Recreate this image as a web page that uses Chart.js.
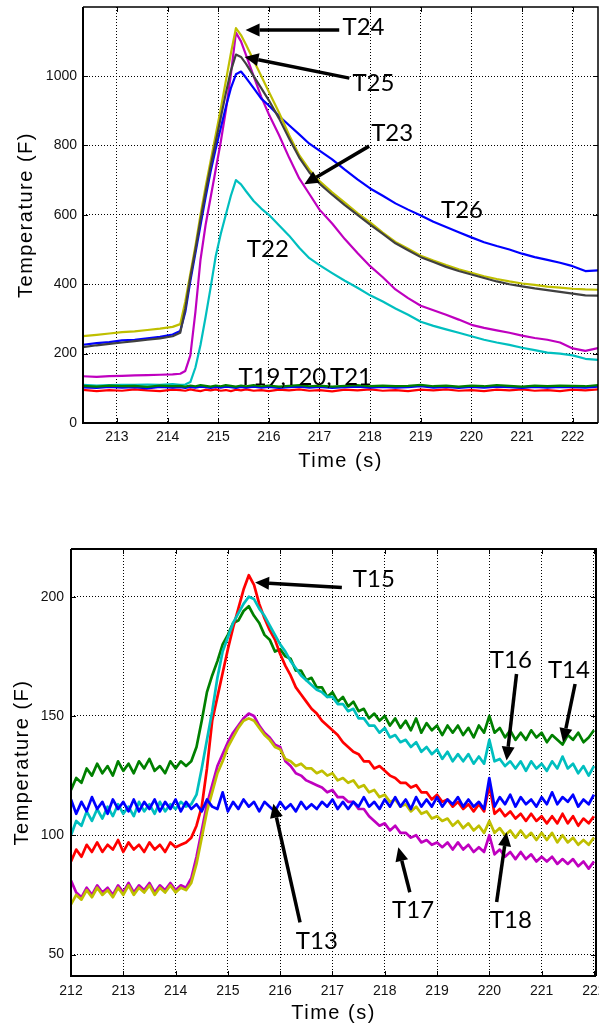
<!DOCTYPE html>
<html><head><meta charset="utf-8">
<script src="https://cdn.jsdelivr.net/npm/chart.js@4.4.1/dist/chart.umd.min.js"></script>
<style>
html,body{margin:0;padding:0;background:#fff;width:599px;height:1032px;overflow:hidden}
#c1{position:absolute;left:0;top:0}
#c2{position:absolute;left:0;top:500px}
</style></head><body>
<canvas id="c1" width="599" height="500"></canvas>
<canvas id="c2" width="599" height="532"></canvas>
<script>
// ---------------- TOP CHART DATA ----------------
const topTimes = [212.3,212.6,212.85,213.1,213.35,213.6,213.85,214.1,214.25,214.35,214.45,214.55,214.65,214.75,214.85,214.95,215.05,215.15,215.25,215.35,215.45,215.55,215.7,215.85,216.0,216.2,216.4,216.6,216.8,217.0,217.25,217.5,217.75,218.0,218.25,218.5,218.75,219.0,219.25,219.5,219.75,220.0,220.25,220.5,220.75,221.0,221.25,221.5,221.75,222.0,222.25,222.5];
const T24 = [250,254,258,262,264,268,272,277, 285,350,430,510,600,680,755,830,905,985,1065,1138, 1118,1090, 1045,1000,955, 895,830,772,730,697, 665,635,605,578,549,522,502,482,468,455,443,433,423,415,408,402,398,393,390,387,385,384];
const T25 = [218,224,228,232,236,240,244,250, 260,330,420,500,585,665,740,810,880,950,1015,1062, 1055,1035, 1000,965,930, 878,820,765,722,690, 658,628,600,572,545,518,498,478,464,450,438,428,418,408,400,394,388,383,378,373,368,367];
const T26 = [225,230,233,238,240,244,248,255, 265,320,410,490,570,650,725,790,850,910,965,1005, 1013,995, 965,935,915, 885,858,832,805,785, 760,730,702,676,655,633,615,598,580,565,550,535,521,510,500,488,478,470,462,452,438,440];
const T23 = [135,133,135,136,137,138,139,140, 142,150,195,320,470,570,650,730,810,900,1005,1125, 1100,1060, 1000,940,890, 830,765,705,660,615, 575,530,490,452,420,385,360,338,325,312,298,283,274,267,260,252,245,240,232,215,208,216];
const T22 = [110,108,109,110,110,111,110,112, 110,111,118,160,225,305,390,480,545,600,655,700, 688,668, 640,618,600, 570,540,505,475,455, 432,410,390,368,350,330,312,292,280,270,260,250,240,232,225,217,210,203,200,195,185,182];
const T20 = [107,105,108,106,107,104,108,106,107,105, 108,106,109,107,105,108,106,109,107,105, 108,106,109,106,108,105,107,109,106,108, 105,107,109,106,108,106,107,110,106,108, 105,108,106,109,107,105,108,106,108,107, 106,109];
const T19 = [103,101,104,102,103,100,104,102,103,101, 104,102,105,103,101,104,102,105,103,101, 104,102,105,102,104,101,103,105,102,104, 101,103,105,102,104,102,103,106,102,104, 101,104,102,105,103,101,104,102,104,103, 102,105];
const T21 = [96,92,95,93,97,94,92,96,95,93, 97,94,92,96,94,97,93,95,92,96, 94,97,93,95,92,96,94,97,93,95, 91,96,94,97,93,95,92,96,94,97, 93,95,92,96,94,97,93,95,92,96, 94,97];
const topYTicks = [0,200,400,600,800,1000];
const topXTicks = [213,214,215,216,217,218,219,220,221,222];

// ---------------- BOTTOM CHART DATA ----------------
const botTimes = [212.0,212.1,212.2,212.3,212.4,212.5,212.6,212.7,212.8,212.9,
 213.0,213.1,213.2,213.3,213.4,213.5,213.6,213.7,213.8,213.9,
 214.0,214.1,214.2,214.3,214.4,214.5,214.6,214.7,214.8,214.9,
 215.0,215.1,215.2,215.3,215.4,215.5,215.6,215.7,215.8,215.9,
 216.0,216.1,216.2,216.3,216.4,216.5,216.6,216.7,216.8,216.9,
 217.0,217.1,217.2,217.3,217.4,217.5,217.6,217.7,217.8,217.9,
 218.0,218.1,218.2,218.3,218.4,218.5,218.6,218.7,218.8,218.9,
 219.0,219.1,219.2,219.3,219.4,219.5,219.6,219.7,219.8,219.9,
 220.0,220.1,220.2,220.3,220.4,220.5,220.6,220.7,220.8,220.9,
 221.0,221.1,221.2,221.3,221.4,221.5,221.6,221.7,221.8,221.9,
 222.0];
const T13 = [115,109,114,110,116,111,114,109,115,111, 114,110,115,110,114,111,115,110,114,111, 115,110,114,111,113,110,115,112,111,118, 110,114,111,115,112,114,110,114,112,110, 114,111,113,110,114,111,113,111,114,112, 115,111,114,111,114,112,116,112,114,111, 115,112,116,112,115,111,116,112,115,112, 116,112,115,113,116,112,115,112,114,111, 124,112,116,113,117,112,116,113,115,112, 116,113,118,113,116,114,117,112,115,113, 117];
const T14 = [119,124,122,128,125,130,126,129,125,131, 127,130,126,131,128,132,127,129,126,131, 128,131,129,131,137,148,160,167,173,180, 184,189,190,194,196,192,189,184,182,177, 178,175,174,169,169,165,166,162,162,158, 160,156,158,154,156,152,153,149,151,148, 150,146,149,145,148,144,149,143,147,144, 146,142,146,143,146,142,145,141,146,143, 150,143,145,141,144,140,143,140,144,141, 143,139,142,140,138,142,140,143,139,141, 144];
const T15 = [89,94,91,96,93,97,93,96,94,98, 93,97,94,96,93,97,94,96,93,97, 95,96,97,99,104,112,128,148,158,168, 178,187,195,203,209,205,197,191,186,182, 176,171,167,162,159,156,153,151,148,146, 144,142,139,137,135,134,131,131,128,129, 127,125,124,122,122,120,121,118,118,115, 117,114,115,112,114,111,113,110,113,110, 121,109,111,108,110,107,109,106,109,106, 108,105,108,105,109,105,108,104,107,105, 108];
const T16 = [100,106,104,110,106,111,107,112,108,113, 109,112,108,114,110,113,109,114,110,113, 111,114,112,113,117,128,140,152,166,177, 183,189,193,197,200,199,195,192,188,184, 180,177,173,170,167,165,163,161,160,158, 158,155,155,152,153,149,149,146,146,143, 145,141,142,139,140,137,139,135,137,134, 136,132,135,131,134,131,134,130,133,130, 140,131,132,129,131,128,131,127,131,128, 130,127,131,128,133,128,130,126,129,125, 129];
const T17 = [81,76,74,78,75,79,76,78,75,79, 76,80,76,79,77,80,76,79,77,80, 77,79,78,82,91,102,113,121,129,134, 139,143,146,149,151,150,146,143,141,138, 137,131,129,126,125,123,122,121,120,118, 119,116,116,114,114,111,111,108,106,104, 105,102,104,101,101,99,100,97,98,96, 97,95,97,94,97,94,96,93,95,93, 100,92,94,91,93,90,93,90,92,89, 91,89,91,88,90,88,90,87,89,86, 89];
const T18 = [71,75,73,77,74,78,75,77,74,78, 75,79,75,78,76,79,75,78,76,79, 76,78,77,80,88,99,110,118,126,131, 137,141,145,148,149,148,145,142,140,137, 136,132,131,129,130,128,128,126,127,125, 126,123,124,122,123,120,121,118,119,116, 117,114,115,112,113,110,112,109,110,107, 108,106,107,104,106,103,105,102,104,101, 106,101,103,100,102,99,102,99,101,98, 101,98,101,97,100,97,99,96,98,96, 99];
const botYTicks = [50,100,150,200];
const botXTicks = [212,213,214,215,216,217,218,219,220,221,222];

// ---------------- ANNOTATIONS (data coordinates) ----------------
const topNotes = [
 {label:'T24', at:[217.455,1118], tail:[217.39,1133], tip:[215.54,1133]},
 {label:'T25', at:[217.65,957], tail:[217.59,994], tip:[215.52,1055]},
 {label:'T23', at:[218.02,812], tail:[217.98,798], tip:[216.70,688]},
 {label:'T26', at:[219.40,590]},
 {label:'T22', at:[215.565,478]},
 {label:'T19,T20,T21', at:[215.40,110]}
];
const botNotes = [
 {label:'T15', at:[217.39,204.2], tail:[217.18,203.9], tip:[215.52,206]},
 {label:'T16', at:[220.01,170.3], tail:[220.52,167.6], tip:[220.33,131.3]},
 {label:'T14', at:[221.12,166], tail:[221.64,163.4], tip:[221.41,139]},
 {label:'T13', at:[216.30,52.5], tail:[216.38,63.5], tip:[215.87,113.2]},
 {label:'T17', at:[218.14,65.5], tail:[218.48,76.1], tip:[218.26,95]},
 {label:'T18', at:[220.01,61.3], tail:[220.14,72], tip:[220.33,101.3]}
];

// ---------------- DRAWING ----------------
const C = {blue:'#0000FF', green:'#008000', red:'#FF0000', cyan:'#00BFBF', magenta:'#BF00BF', olive:'#BFBF00', gray:'#404040'};
const AXFONT = '"Liberation Sans", Arial, Helvetica, sans-serif';
const NOTEFONT = 'Lato, "Open Sans", sans-serif';

function pts(times, vals){ return times.map((t,i)=>({x:t, y:vals[i]})); }
function ds(label, times, vals, color, w){ return {label, data:pts(times,vals), borderColor:color, backgroundColor:color, borderWidth:w, pointRadius:0, tension:0, fill:false, borderJoinStyle:'round'}; }

function drawArrow(ctx, x1, y1, x2, y2){
  const a = Math.atan2(y2-y1, x2-x1), L = 14, W = 6.5;
  const bx = x2 - L*Math.cos(a), by = y2 - L*Math.sin(a);
  ctx.lineWidth = 3.5; ctx.lineCap = 'butt';
  ctx.beginPath(); ctx.moveTo(x1,y1); ctx.lineTo(bx,by); ctx.stroke();
  ctx.beginPath(); ctx.moveTo(x2,y2);
  ctx.lineTo(bx + W*Math.sin(a), by - W*Math.cos(a));
  ctx.lineTo(bx - W*Math.sin(a), by + W*Math.cos(a));
  ctx.closePath(); ctx.fill();
}

function decorPlugin(o){
  return {
    id:'decor',
    afterDraw(chart){
      const ctx = chart.ctx, ca = chart.chartArea, xs = chart.scales.x, ys = chart.scales.y;
      ctx.save();
      ctx.strokeStyle = '#000'; ctx.fillStyle = '#000';
      ctx.lineWidth = 1;
      ctx.beginPath();
      xs.ticks.forEach(t=>{ const p = Math.round(xs.getPixelForValue(t.value))+0.5;
        ctx.moveTo(p, ca.bottom); ctx.lineTo(p, ca.bottom-5);
        ctx.moveTo(p, ca.top); ctx.lineTo(p, ca.top+5); });
      ys.ticks.forEach(t=>{ const p = Math.round(ys.getPixelForValue(t.value))+0.5;
        ctx.moveTo(ca.left, p); ctx.lineTo(ca.left+5, p);
        ctx.moveTo(ca.right, p); ctx.lineTo(ca.right-5, p); });
      ctx.stroke();
      ctx.lineWidth = 2;
      ctx.beginPath(); ctx.moveTo(ca.left, ca.top); ctx.lineTo(ca.left, ca.bottom); ctx.lineTo(ca.right, ca.bottom); ctx.stroke();
      ctx.lineWidth = o.thinBox;
      ctx.beginPath(); ctx.moveTo(ca.left, ca.top); ctx.lineTo(ca.right, ca.top); ctx.lineTo(ca.right, ca.bottom); ctx.stroke();
      ctx.font = '20px ' + AXFONT;
      try { ctx.letterSpacing = '1.5px'; } catch(e){}
      ctx.textAlign = 'center'; ctx.textBaseline = 'alphabetic';
      ctx.fillText('Time (s)', (ca.left+ca.right)/2, o.xTitleBase);
      ctx.save();
      ctx.translate(o.yTitleBase, (ca.top+ca.bottom)/2);
      ctx.rotate(-Math.PI/2);
      ctx.fillText('Temperature (F)', 0, 0);
      ctx.restore();
      try { ctx.letterSpacing = '0px'; } catch(e){}
      ctx.font = '24px ' + NOTEFONT;
      ctx.textAlign = 'left'; ctx.textBaseline = 'alphabetic';
      o.notes.forEach(n=>{
        if (n.tail) drawArrow(ctx, xs.getPixelForValue(n.tail[0]), ys.getPixelForValue(n.tail[1]), xs.getPixelForValue(n.tip[0]), ys.getPixelForValue(n.tip[1]));
        ctx.fillText(n.label, xs.getPixelForValue(n.at[0]), ys.getPixelForValue(n.at[1]));
      });
      ctx.restore();
    }
  };
}

function makeChart(id, o){
  return new Chart(document.getElementById(id), {
    type:'line',
    data:{datasets:o.datasets},
    options:{
      responsive:false, animation:false, devicePixelRatio:1,
      layout:{padding:{left:0, top:o.padTop, right:o.padRight, bottom:0}, autoPadding:false},
      plugins:{legend:{display:false}, tooltip:{enabled:false}, title:{display:false}},
      scales:{
        x:{type:'linear', min:o.xmin, max:o.xmax,
           afterFit(s){ s.height = o.xAxisH; s.paddingLeft = 0; s.paddingRight = 0; s.paddingTop = 0; s.paddingBottom = 0; },
           afterBuildTicks(s){ s.ticks = o.xTicks.map(v=>({value:v})); },
           grid:{color:'#000', lineWidth:1, drawTicks:false},
           border:{display:false, dash:[1,2]},
           ticks:{autoSkip:false, maxRotation:0, minRotation:0, padding:o.xTickPad, color:'#111',
                  font:{family:AXFONT, size:14}, callback:v=>String(v)}},
        y:{type:'linear', min:o.ymin, max:o.ymax,
           afterFit(s){ s.width = o.yAxisW; s.paddingTop = 0; s.paddingBottom = 0; s.paddingLeft = 0; s.paddingRight = 0; },
           afterBuildTicks(s){ s.ticks = o.yTicks.map(v=>({value:v})); },
           grid:{color:'#000', lineWidth:1, drawTicks:false},
           border:{display:false, dash:[1,2]},
           ticks:{autoSkip:false, padding:o.yTickPad, color:'#111',
                  font:{family:AXFONT, size:14}, callback:v=>String(v)}}
      }
    },
    plugins:[decorPlugin(o)]
  });
}

makeChart('c1', {
  datasets:[
    ds('T20', topTimes, T20, C.green, 2.2),
    ds('T19', topTimes, T19, C.blue, 2.2),
    ds('T21', topTimes, T21, C.red, 2.2),
    ds('T25', topTimes, T25, C.gray, 2.2),
    ds('T24', topTimes, T24, C.olive, 2.2),
    ds('T26', topTimes, T26, C.blue, 2.2),
    ds('T23', topTimes, T23, C.magenta, 2.2),
    ds('T22', topTimes, T22, C.cyan, 2.2)
  ],
  xmin:212.33, xmax:222.5, ymin:0, ymax:1199,
  xTicks:topXTicks, yTicks:topYTicks,
  padTop:7, padRight:1, xAxisH:77, yAxisW:83, xTickPad:6, yTickPad:6,
  thinBox:1.5, xTitleBase:467, yTitleBase:32, notes:topNotes
});

makeChart('c2', {
  datasets:[
    ds('T13', botTimes, T13, C.blue, 2.7),
    ds('T18', botTimes, T18, C.olive, 2.7),
    ds('T16', botTimes, T16, C.cyan, 2.7),
    ds('T15', botTimes, T15, C.red, 2.7),
    ds('T17', botTimes, T17, C.magenta, 2.7),
    ds('T14', botTimes, T14, C.green, 2.7)
  ],
  xmin:212, xmax:222.04, ymin:41, ymax:220,
  xTicks:botXTicks, yTicks:botYTicks,
  padTop:49, padRight:3, xAxisH:56, yAxisW:71, xTickPad:7, yTickPad:7,
  thinBox:2, xTitleBase:519, yTitleBase:27.5, notes:botNotes
});
</script>
</body></html>
